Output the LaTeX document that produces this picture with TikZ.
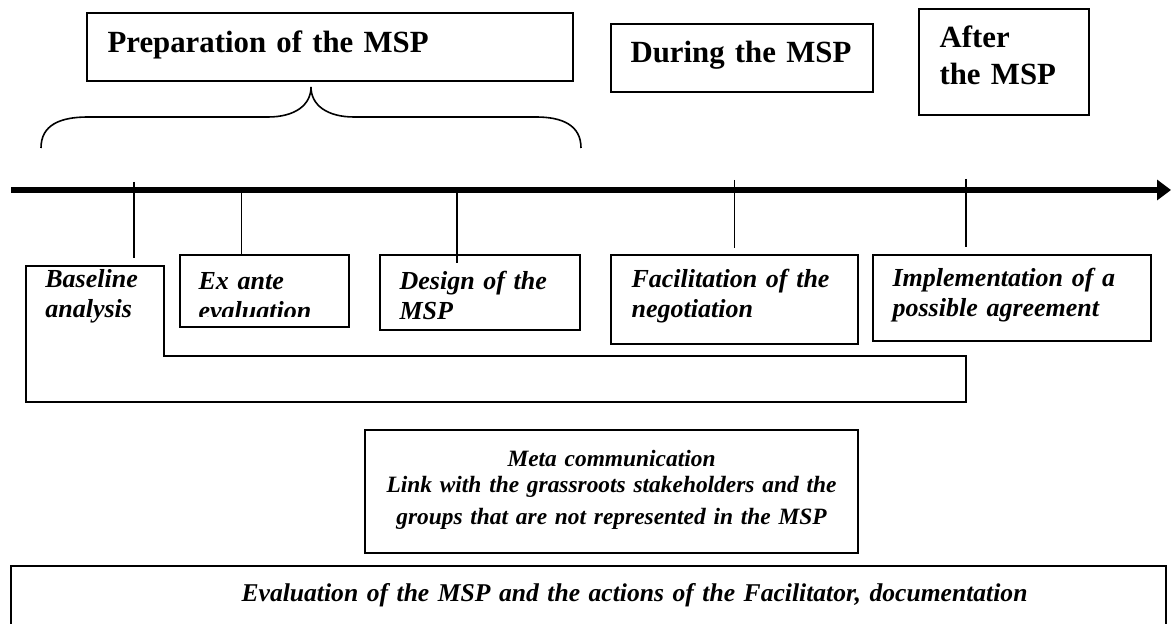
\documentclass[tikz,border=0pt]{standalone}
\usepackage{fontspec}
\setmainfont{Liberation Serif}
\usepackage{tikz}
\usetikzlibrary{arrows.meta,positioning,calc,fit}

\tikzset{
  framebox/.style={draw, line width=0.8pt, inner sep=0pt},
  phasetext/.style={anchor=base west, inner sep=0pt, text width=8cm, align=left,
    font=\fontsize{15.4}{18.5}\selectfont\bfseries},
  steptext/.style={anchor=base west, inner sep=0pt, text width=6cm, align=left,
    font=\fontsize{13}{15}\selectfont\bfseries\itshape},
  ticmark/.style={line width=0.7pt},
}

\begin{document}
\begin{tikzpicture}[x=0.5pt, y=-0.5pt]
  \clip (0,0) rectangle (1171,624);

  % phases above the time line
  \node[framebox, fit={(87,13) (573,81)}] (prep) {};
  \node[phasetext] at ($(prep.north west)+(21,40)$) {Preparation of the MSP};
  \node[framebox, fit={(611,24) (873,92)}] (during) {};
  \node[phasetext] at ($(during.north west)+(20,39)$) {During the MSP};
  \node[framebox, fit={(919,9) (1089,115)}] (after) {};
  \node[phasetext] at ($(after.north west)+(21,39)$) {After\\the MSP};

  \draw[line width=0.8pt] (41,148) .. controls (41,125) and (60,117) .. (88,117)
    -- (268,117) .. controls (295,117) and (311,105) .. (311,87)
    .. controls (311,105) and (327,117) .. (354,117)
    -- (536,117) .. controls (562,117) and (581,125) .. (581,148);

  % time line
  \coordinate (axstart) at (11,190);
  \coordinate (axend) at (1171,190);
  \draw[line width=3.3pt, -{Triangle[length=7pt,width=10pt]}] (axstart) -- (axend);
  \foreach \x/\ya/\yb [count=\i] in {134/182/258, 241.5/190/255, 457/190/263, 734.5/180/248, 966/179/247}{
    \coordinate (top\i) at (\x,\ya);
    \coordinate (bot\i) at (\x,\yb);
    \draw[ticmark] (top\i) -- (bot\i);
  }

  % steps
  \draw[line width=0.8pt] (26,266) -- (164,266) -- (164,356) -- (966,356)
    -- (966,402) -- (26,402) -- cycle;
  \node[steptext] (base) at (45,288) {Baseline\\analysis};

  \node[framebox, fit={(180,255) (349,327)}] (exante) {};
  \begin{scope}
    \clip (180,255) rectangle (349,317);
    \node[steptext] at ($(exante.north west)+(19,35)$) {Ex ante\\evaluation};
  \end{scope}

  \node[framebox, fit={(380,255) (580,330)}] (design) {};
  \node[steptext] at ($(design.north west)+(20,35)$) {Design of the\\MSP};

  \node[framebox, fit={(611,255) (858,344)}] (facil) {};
  \node[steptext] at ($(facil.north west)+(21,33)$) {Facilitation of the\\negotiation};

  \node[framebox, fit={(873,255) (1151,341)}] (impl) {};
  \node[steptext] at ($(impl.north west)+(20,32)$) {Implementation of a\\possible agreement};

  % meta communication and evaluation
  \node[framebox, fit={(365,430) (858,553)}] (meta) {};
  \node[anchor=base, inner sep=0pt, text width=12cm, align=center,
    font=\fontsize{11.7}{15.75}\selectfont\bfseries\itshape]
    at ($(meta.north)+(0,37)$) {Meta communication\\[-2.5pt]Link with the grassroots stakeholders and the\\groups that are not represented in the MSP};

  \node[framebox, fit={(11,566) (1166,640)}] (eval) {};
  \node[steptext, text width=18cm, font=\fontsize{12.8}{15}\selectfont\bfseries\itshape]
    at ($(eval.north west)+(231,36)$) {Evaluation of the MSP and the actions of the Facilitator, documentation};
\end{tikzpicture}
\end{document}
